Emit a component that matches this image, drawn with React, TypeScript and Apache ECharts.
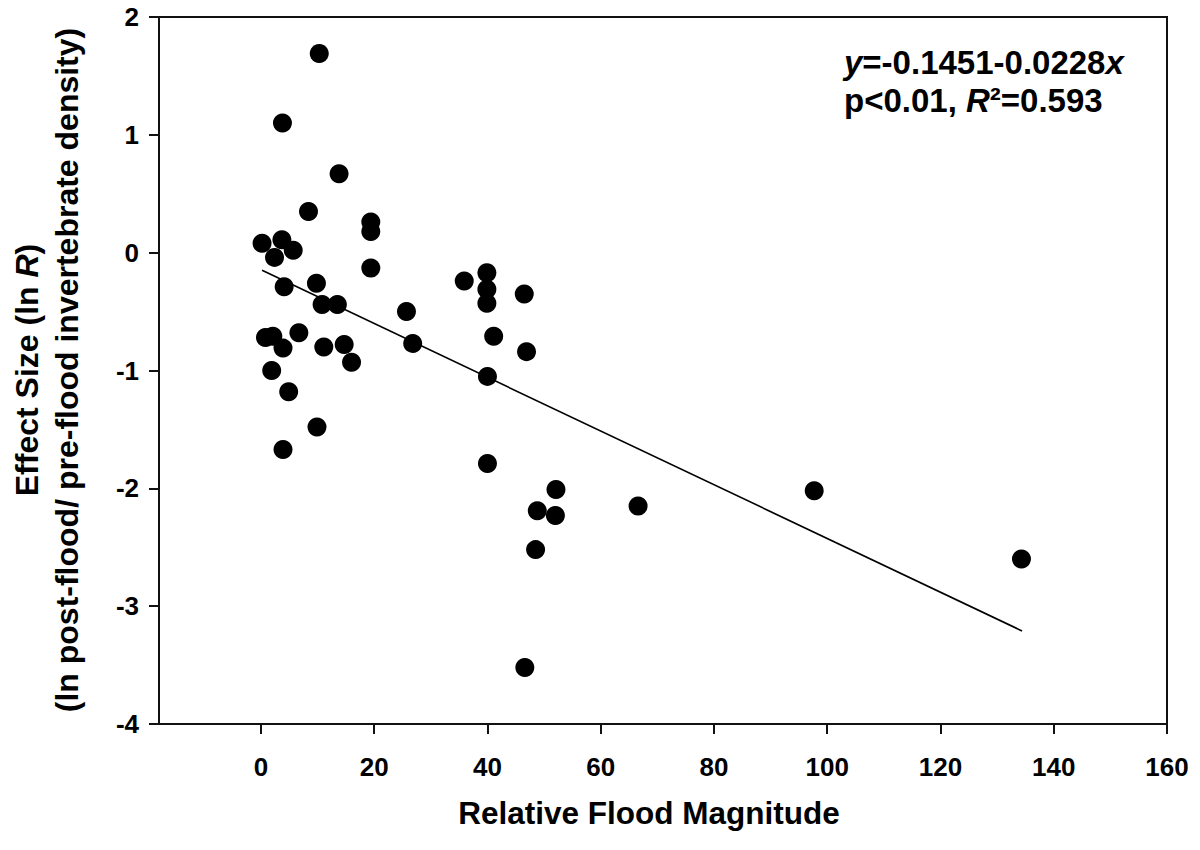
import React, { useEffect, useRef } from "react";
import * as echarts from "echarts";

// Relative flood magnitude (x) and effect size ln R (y)
const floodMagnitude = [
  10.3, 3.8, 13.8, 8.4, 19.4, 19.4, 0.2, 3.7, 5.7, 2.4, 19.4, 4.1, 9.8, 10.8, 13.5,
  25.7, 26.8, 0.8, 2.1, 3.9, 6.7, 11.1, 14.7, 16.0, 1.9, 4.9, 9.9, 3.9, 35.9, 39.9,
  39.9, 39.9, 46.5, 41.1, 46.9, 40.0, 40.0, 52.1, 48.8, 52.0, 66.6, 48.5, 46.6, 97.7, 134.3,
];
const effectSize = [
  1.69, 1.1, 0.67, 0.35, 0.26, 0.18, 0.08, 0.11, 0.02, -0.04, -0.13, -0.29, -0.26, -0.44, -0.44,
  -0.5, -0.77, -0.72, -0.71, -0.81, -0.68, -0.8, -0.78, -0.93, -1.0, -1.18, -1.48, -1.67, -0.24, -0.17,
  -0.31, -0.43, -0.35, -0.71, -0.84, -1.05, -1.79, -2.01, -2.19, -2.23, -2.15, -2.52, -3.52, -2.02, -2.6,
];
// Regression line end points (y = -0.1451 - 0.0228x)
const fitX = [0.2, 134.4];
const fitY = [-0.15, -3.21];

const xTicks = [0, 20, 40, 60, 80, 100, 120, 140, 160];
const yTicks = [-4, -3, -2, -1, 0, 1, 2];

const FONT = "'Liberation Sans', Arial, Helvetica, sans-serif";

export default function App() {
  const ref = useRef<HTMLDivElement>(null);

  useEffect(() => {
    document.body.style.margin = "0";
    const chart = echarts.init(ref.current!, null, { renderer: "svg" });
    const points = floodMagnitude.map((x, i) => [x, effectSize[i]]);
    const fit = fitX.map((x, i) => [x, fitY[i]]);

    const eqRich = {
      n: { fontSize: 33, fontWeight: "bold", fontFamily: FONT, fill: "#000" },
      i: { fontSize: 33, fontWeight: "bold", fontStyle: "italic", fontFamily: FONT, fill: "#000" },
    };

    chart.setOption({
      animation: false,
      backgroundColor: "#fff",
      grid: {
        left: 159,
        right: 33,
        top: 17,
        bottom: 126,
        show: true,
        borderColor: "#111",
        borderWidth: 2,
        backgroundColor: "transparent",
      },
      xAxis: {
        type: "value",
        min: -18,
        max: 160,
        splitLine: { show: false },
        axisLine: { onZero: false, lineStyle: { color: "#111", width: 2 } },
        axisTick: {
          show: true,
          length: 10,
          customValues: xTicks,
          lineStyle: { color: "#111", width: 2 },
        },
        axisLabel: {
          customValues: xTicks,
          fontSize: 26,
          fontWeight: "bold",
          fontFamily: FONT,
          color: "#000",
          margin: 30,
        },
      },
      yAxis: {
        type: "value",
        min: yTicks[0],
        max: yTicks[yTicks.length - 1],
        interval: 1,
        splitLine: { show: false },
        axisLine: { onZero: false, lineStyle: { color: "#111", width: 2 } },
        axisTick: { show: true, length: 10, lineStyle: { color: "#111", width: 2 } },
        axisLabel: {
          fontSize: 26,
          fontWeight: "bold",
          fontFamily: FONT,
          color: "#000",
          margin: 20,
        },
      },
      series: [
        {
          type: "line",
          data: fit,
          symbol: "none",
          lineStyle: { color: "#000", width: 1.6 },
          z: 2,
        },
        {
          type: "scatter",
          data: points,
          symbol: "circle",
          symbolSize: 19,
          itemStyle: { color: "#000", opacity: 1 },
          z: 3,
        },
      ],
      graphic: [
        {
          type: "text",
          x: 27,
          y: 370,
          rotation: Math.PI / 2,
          style: {
            text: "{n|Effect Size (ln }{i|R}{n|)}",
            align: "center",
            verticalAlign: "middle",
            fill: "#000",
            rich: {
              n: { fontSize: 32, fontWeight: "bold", fontFamily: FONT, fill: "#000" },
              i: { fontSize: 32, fontWeight: "bold", fontStyle: "italic", fontFamily: FONT, fill: "#000" },
            },
          },
        },
        {
          type: "text",
          x: 67,
          y: 370,
          rotation: Math.PI / 2,
          style: {
            text: "(ln post-flood/ pre-flood invertebrate density)",
            align: "center",
            verticalAlign: "middle",
            fill: "#000",
            fontSize: 32,
            fontWeight: "bold",
            fontFamily: FONT,
          },
        },
        {
          type: "text",
          x: 649,
          y: 813,
          style: {
            text: "Relative Flood Magnitude",
            align: "center",
            verticalAlign: "middle",
            fill: "#000",
            fontSize: 31.5,
            fontWeight: "bold",
            fontFamily: FONT,
          },
        },
        {
          type: "text",
          x: 844,
          y: 62,
          style: {
            text: "{i|y}{n|=-0.1451-0.0228}{i|x}",
            align: "left",
            verticalAlign: "middle",
            fill: "#000",
            rich: eqRich,
          },
        },
        {
          type: "text",
          x: 844,
          y: 100,
          style: {
            text: "{n|p<0.01, }{i|R}{n|²=0.593}",
            align: "left",
            verticalAlign: "middle",
            fill: "#000",
            rich: eqRich,
          },
        },
      ],
    });

    return () => chart.dispose();
  }, []);

  return (
    <div
      ref={ref}
      style={{ position: "absolute", left: 0, top: 0, width: 1200, height: 850 }}
    />
  );
}
